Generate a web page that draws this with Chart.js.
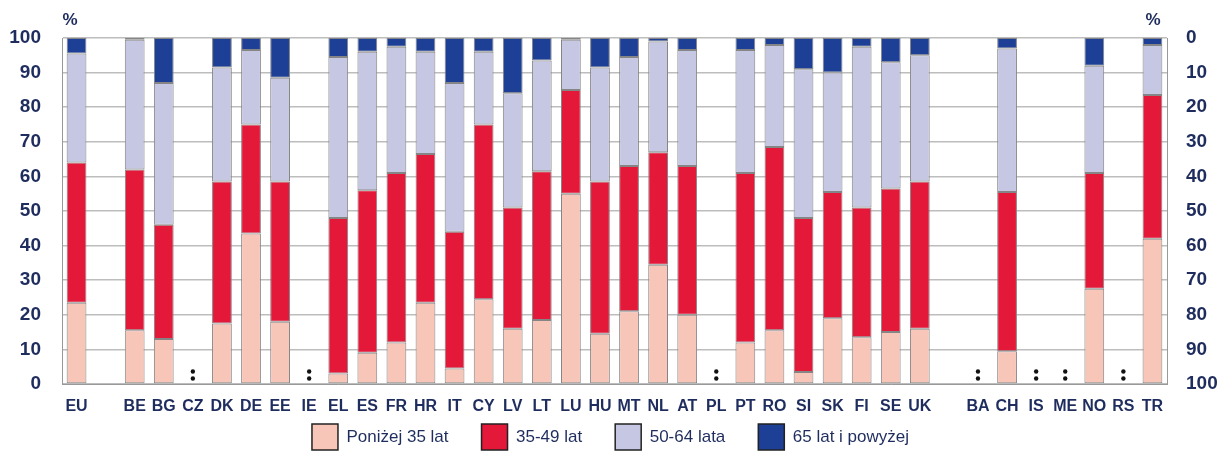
<!DOCTYPE html>
<html>
<head>
<meta charset="utf-8">
<script src="https://cdn.jsdelivr.net/npm/chart.js@4/dist/chart.umd.min.js"></script>
<style>
  html, body { margin: 0; padding: 0; background: #fff; }
  #wrap { width: 1221px; height: 474px; position: relative; }
</style>
</head>
<body>
<div id="wrap"><canvas id="ageChart"></canvas></div>
<script>
// categories ("" = empty slot between groups)
const countries = ["EU", "", "BE", "BG", "CZ", "DK", "DE", "EE", "IE", "EL", "ES", "FR", "HR", "IT", "CY",
  "LV", "LT", "LU", "HU", "MT", "NL", "AT", "PL", "PT", "RO", "SI", "SK", "FI", "SE", "UK", "",
  "BA", "CH", "IS", "ME", "NO", "RS", "TR"];

// ":" = not available
const missing = ["CZ", "IE", "PL", "BA", "IS", "ME", "RS"];

const under35 = [23.5, null, 15.5, 13, null, 17.5, 43.5, 18, null, 3, 9, 12, 23.5, 4.5, 24.5,
  16, 18.5, 55, 14.5, 21, 34.5, 20, null, 12, 15.5, 3.5, 19, 13.5, 15, 16, null,
  null, 9.5, null, null, 27.5, null, 42];
const age35to49 = [40.5, null, 46.5, 33, null, 41, 31.5, 40.5, null, 45, 47, 49, 43, 39.5, 50.5,
  35, 43, 30, 44, 42, 32.5, 43, null, 49, 53, 44.5, 36.5, 37.5, 41.5, 42.5, null,
  null, 46, null, null, 33.5, null, 41.5];
const age50to64 = [31.5, null, 37.5, 41, null, 33, 21.5, 30, null, 46.5, 40, 36.5, 29.5, 43, 21,
  33, 32, 14.5, 33, 31.5, 32, 33.5, null, 35.5, 29.5, 43, 34.5, 46.5, 36.5, 36.5, null,
  null, 41.5, null, null, 31, null, 14.5];
const over65 = [4.5, null, 0.5, 13, null, 8.5, 3.5, 11.5, null, 5.5, 4, 2.5, 4, 13, 4,
  16, 6.5, 0.5, 8.5, 5.5, 1, 3.5, null, 3.5, 2, 9, 10, 2.5, 7, 5, null,
  null, 3, null, null, 8, null, 2];

const yTicks = [0, 10, 20, 30, 40, 50, 60, 70, 80, 90, 100];

const navy = "#1f2d5e";
const font = "'Liberation Sans', Arial, sans-serif";

const missingMarks = {
  id: "missingMarks",
  afterDatasetsDraw(chart){
    const ctx = chart.ctx;
    const x = chart.scales.x;
    const y = chart.scales.y;
    ctx.save();
    ctx.fillStyle = "#111";
    countries.forEach((c, i) => {
      if(missing.includes(c)){
        const px = x.getPixelForValue(i);
        const py = y.getPixelForValue(0) - 9;
        ctx.beginPath(); ctx.arc(px, py - 3.5, 2.2, 0, Math.PI * 2); ctx.fill();
        ctx.beginPath(); ctx.arc(px, py + 3.5, 2.2, 0, Math.PI * 2); ctx.fill();
      }
    });
    // percent signs above both axes
    ctx.fillStyle = navy;
    ctx.font = "bold 17px " + font;
    ctx.textAlign = "center";
    ctx.textBaseline = "bottom";
    ctx.fillText("%", chart.chartArea.left + 8, chart.chartArea.top - 9);
    ctx.fillText("%", chart.chartArea.right - 14, chart.chartArea.top - 9);
    ctx.restore();
  }
};

// wide item spacing wants big padding, but that pushes the legend down; pull it back up
const legendNudge = {
  id: "legendNudge",
  afterInit(chart){
    const lg = chart.legend;
    const fit = lg.fit.bind(lg);
    lg.fit = function(){ fit(); this.height = 58; };
  },
  beforeDraw(chart){
    chart.legend.top -= 25;
  }
};

function ds(label, data, color){
  return {
    label: label,
    data: data,
    backgroundColor: color,
    borderColor: "#858585",
    borderWidth: 1,
    borderSkipped: false,
    categoryPercentage: 1,
    barPercentage: 0.68
  };
}

new Chart(document.getElementById("ageChart"), {
  type: "bar",
  data: {
    labels: countries,
    datasets: [
      ds("Poniżej 35 lat", under35, "#f8c6b8"),
      ds("35-49 lat", age35to49, "#e41838"),
      ds("50-64 lata", age50to64, "#c6c7e3"),
      ds("65 lat i powyżej", over65, "#1d3f95")
    ]
  },
  options: {
    responsive: true,
    maintainAspectRatio: false,
    animation: false,
    layout: { padding: { left: 0, right: 0, top: 38, bottom: 0 } },
    plugins: {
      tooltip: { enabled: false },
      legend: {
        position: "bottom",
        labels: {
          boxWidth: 26,
          boxHeight: 26,
          padding: 33,
          color: navy,
          font: { family: font, size: 17 },
          generateLabels(chart){
            return chart.data.datasets.map((d, i) => ({
              text: d.label,
              fillStyle: d.backgroundColor,
              strokeStyle: "#222",
              lineWidth: 1.5,
              fontColor: navy,
              datasetIndex: i
            }));
          }
        }
      }
    },
    scales: {
      x: {
        stacked: true,
        grid: { display: false },
        border: { display: true, color: "#999", width: 1 },
        ticks: {
          color: navy,
          autoSkip: false,
          maxRotation: 0,
          padding: 5,
          font: { family: font, size: 16, weight: "bold" }
        },
        afterFit(scale){ scale.height = 32; }
      },
      y: {
        stacked: true,
        min: 0,
        max: 100,
        position: "left",
        grid: { color: "#bdbdbd", lineWidth: 1.5, drawTicks: false },
        border: { display: true, color: "#999", width: 1 },
        afterBuildTicks(scale){ scale.ticks = yTicks.map(v => ({ value: v })); },
        ticks: {
          color: navy,
          padding: 21,
          font: { family: font, size: 19, weight: "bold" }
        },
        afterFit(scale){ scale.width = 62; }
      },
      y2: {
        min: 0,
        max: 100,
        reverse: true,
        position: "right",
        grid: { display: false },
        border: { display: true, color: "#999", width: 1 },
        afterBuildTicks(scale){ scale.ticks = yTicks.map(v => ({ value: v })); },
        ticks: {
          color: navy,
          padding: 11,
          font: { family: font, size: 19, weight: "bold" }
        },
        afterFit(scale){ scale.width = 54; }
      }
    }
  },
  plugins: [missingMarks, legendNudge]
});
</script>
</body>
</html>
